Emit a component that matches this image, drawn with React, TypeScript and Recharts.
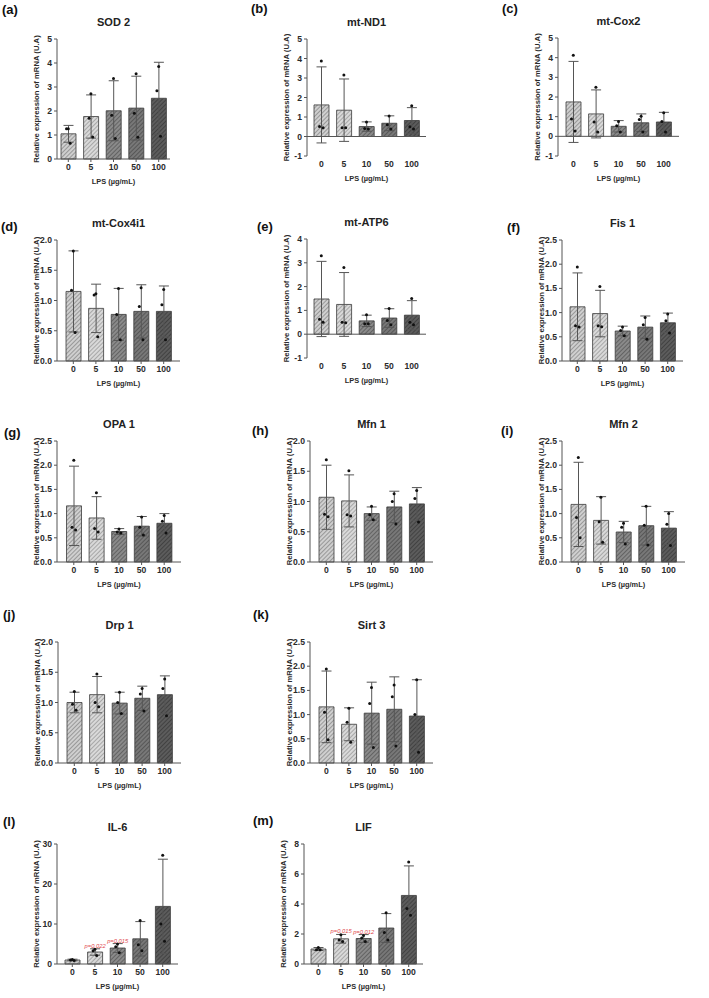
import React from 'react';
import {
  ComposedChart,
  Bar,
  Cell,
  ErrorBar,
  Line,
  XAxis,
  YAxis,
  ReferenceLine,
  LabelList,
} from 'recharts';

const FONT = '"Liberation Sans", Arial, sans-serif';
const TEXT = '#2b2b2b';

// LPS doses (µg/mL)
const doses = ['0', '5', '10', '50', '100'];

// y-axis ticks
const ticks0to5 = [0, 1, 2, 3, 4, 5];
const ticksM1to5 = [-1, 0, 1, 2, 3, 4, 5];
const ticksM1to4 = [-1, 0, 1, 2, 3, 4];
const ticks0to2 = [0, 0.5, 1, 1.5, 2];
const ticks0to25 = [0, 0.5, 1, 1.5, 2, 2.5];
const ticks0to30 = [0, 10, 20, 30];
const ticks0to8 = [0, 2, 4, 6, 8];

// mean, SD and the three replicates per dose
const sod2Mean = [1.05, 1.77, 2.01, 2.12, 2.53];
const sod2Sd = [0.35, 0.9, 1.25, 1.33, 1.5];
const sod2Pts = [[1.26, 1.26, 0.66], [2.72, 1.7, 0.92], [3.35, 1.82, 0.85], [3.55, 1.91, 0.91], [3.85, 2.84, 0.95]];

const nd1Mean = [1.62, 1.35, 0.51, 0.68, 0.82];
const nd1Sd = [1.95, 1.6, 0.24, 0.38, 0.66];
const nd1Pts = [[3.87, 0.51, 0.45], [3.16, 0.45, 0.45], [0.75, 0.41, 0.38], [1.05, 0.6, 0.38], [1.58, 0.5, 0.38]];

const cox2Mean = [1.75, 1.14, 0.51, 0.69, 0.73];
const cox2Sd = [2.06, 1.22, 0.29, 0.45, 0.49];
const cox2Pts = [[4.12, 0.88, 0.27], [2.49, 0.73, 0.22], [0.76, 0.54, 0.22], [1.02, 0.85, 0.22], [1.2, 0.75, 0.22]];

const cox4Mean = [1.15, 0.87, 0.77, 0.82, 0.82];
const cox4Sd = [0.67, 0.4, 0.43, 0.44, 0.42];
const cox4Pts = [[1.82, 1.17, 0.47], [1.11, 1.09, 0.4], [1.2, 0.77, 0.35], [1.21, 0.9, 0.35], [1.18, 0.93, 0.35]];

const atp6Mean = [1.48, 1.25, 0.56, 0.68, 0.8];
const atp6Sd = [1.58, 1.34, 0.24, 0.39, 0.61];
const atp6Pts = [[3.3, 0.63, 0.5], [2.8, 0.5, 0.48], [0.82, 0.44, 0.44], [1.08, 0.58, 0.4], [1.5, 0.5, 0.4]];

const fis1Mean = [1.12, 0.98, 0.62, 0.7, 0.79];
const fis1Sd = [0.7, 0.48, 0.1, 0.23, 0.2];
const fis1Pts = [[1.94, 0.73, 0.7], [1.54, 0.73, 0.71], [0.7, 0.63, 0.52], [0.9, 0.75, 0.45], [0.97, 0.83, 0.58]];

const opa1Mean = [1.16, 0.91, 0.63, 0.74, 0.8];
const opa1Sd = [0.82, 0.44, 0.06, 0.2, 0.2];
const opa1Pts = [[2.1, 0.72, 0.66], [1.43, 0.69, 0.62], [0.68, 0.62, 0.6], [0.93, 0.72, 0.56], [0.96, 0.84, 0.6]];

const mfn1Mean = [1.07, 1.01, 0.8, 0.91, 0.96];
const mfn1Sd = [0.53, 0.43, 0.11, 0.26, 0.27];
const mfn1Pts = [[1.69, 0.79, 0.75], [1.51, 0.78, 0.76], [0.92, 0.78, 0.7], [1.13, 1.0, 0.63], [1.18, 1.05, 0.66]];

const mfn2Mean = [1.19, 0.86, 0.62, 0.75, 0.7];
const mfn2Sd = [0.87, 0.49, 0.22, 0.4, 0.34];
const mfn2Pts = [[2.16, 0.92, 0.5], [1.34, 0.83, 0.41], [0.8, 0.72, 0.37], [1.15, 0.76, 0.35], [1.0, 0.78, 0.34]];

const drp1Mean = [1.0, 1.13, 0.99, 1.07, 1.13];
const drp1Sd = [0.17, 0.3, 0.18, 0.2, 0.31];
const drp1Pts = [[1.18, 0.97, 0.87], [1.47, 1.0, 0.93], [1.17, 1.0, 0.82], [1.23, 1.14, 0.86], [1.39, 1.23, 0.78]];

const sirt3Mean = [1.16, 0.8, 1.03, 1.11, 0.97];
const sirt3Sd = [0.74, 0.34, 0.64, 0.67, 0.75];
const sirt3Pts = [[1.94, 1.05, 0.48], [1.13, 0.84, 0.43], [1.56, 1.23, 0.32], [1.61, 1.37, 0.35], [1.72, 1.0, 0.22]];

const il6Mean = [1.0, 3.0, 4.0, 6.3, 14.4];
const il6Sd = [0.2, 0.8, 1.1, 4.3, 11.8];
const il6Pts = [[1.1, 1.0, 0.9], [3.7, 3.3, 2.1], [5.0, 4.3, 2.8], [10.9, 4.8, 3.3], [27.2, 10.0, 5.7]];
const il6P = [null, 'p=0.022', 'p=0.015', null, null];

const lifMean = [1.0, 1.68, 1.7, 2.4, 4.57];
const lifSd = [0.1, 0.29, 0.26, 0.96, 1.97];
const lifPts = [[1.1, 0.95, 0.95], [1.95, 1.6, 1.5], [1.9, 1.73, 1.5], [3.42, 2.1, 1.6], [6.8, 3.7, 3.25]];
const lifP = [null, 'p=0.015', 'p=0.012', null, null];

// hatched fills, light to dark with dose
const barShades = [
  { base: '#cfcfcf', line: '#7a7a7a' },
  { base: '#d9d9d9', line: '#8c8c8c' },
  { base: '#8a8a8a', line: '#4e4e4e' },
  { base: '#787878', line: '#444' },
  { base: '#5c5c5c', line: '#333' },
];

const jitter = [0, -1.8, 1.8];

type PanelProps = {
  id: string;
  letter: string;
  title: string;
  mean: number[];
  sd: number[];
  pts: number[][];
  ticks: number[];
  dec: number;
  pLabels?: (string | null)[];
  x: number; // page x of the y axis
  top: number; // page y of the highest tick
  bottom: number; // page y of the lowest tick
  pad: number;
  lx: number;
  ly: number;
};

const Y_W = 50;
const M_TOP = 10;
const X_H = 34;

function Panel(p: PanelProps) {
  const plotW = 113 + 2 * p.pad;
  const width = Y_W + plotW + 6;
  const height = M_TOP + (p.bottom - p.top) + X_H;
  const hasNeg = p.ticks[0] < 0;

  const data = doses.map((d, i) => ({
    dose: d,
    mean: p.mean[i],
    sd: p.sd[i],
    r0: p.pts[i][0],
    r1: p.pts[i][1],
    r2: p.pts[i][2],
    p: p.pLabels ? p.pLabels[i] : null,
  }));

  const dot = (k: number) => (props: any) => {
    const { cx, cy, index } = props;
    if (cx == null || cy == null) return <g key={`d${k}-${index}`} />;
    return <circle key={`d${k}-${index}`} cx={cx + jitter[k]} cy={cy} r={1.5} fill="#111" />;
  };

  // p-value sits just above the upper SD cap
  const pLabel = (props: any) => {
    const { x, y, width: w, height: h, value, index } = props;
    if (!value) return null;
    const perUnit = h / p.mean[index];
    const capY = y - p.sd[index] * perUnit;
    return (
      <text
        x={x + w / 2}
        y={capY - 1}
        textAnchor="middle"
        fontSize={5.8}
        fontStyle="italic"
        fontFamily={FONT}
        fill="#e0474c"
      >
        {value}
      </text>
    );
  };

  return (
    <>
      <div
        style={{
          position: 'absolute',
          left: p.lx,
          top: p.ly,
          transform: 'translateY(-50%)',
          fontFamily: FONT,
          fontWeight: 700,
          fontSize: 13,
          lineHeight: 1,
          color: '#111',
        }}
      >
        {p.letter}
      </div>
      <div
        style={{
          position: 'absolute',
          left: p.x,
          width: plotW,
          top: p.top - 17,
          transform: 'translateY(-50%)',
          textAlign: 'center',
          fontFamily: FONT,
          fontWeight: 700,
          fontSize: 11,
          lineHeight: 1,
          color: '#222',
        }}
      >
        {p.title}
      </div>
      <div style={{ position: 'absolute', left: p.x - Y_W, top: p.top - M_TOP }}>
        <ComposedChart
          width={width}
          height={height}
          data={data}
          margin={{ top: M_TOP, right: 6, bottom: 0, left: 0 }}
        >
          <defs>
            {barShades.map((s, i) => (
              <pattern
                key={i}
                id={`${p.id}-hatch-${i}`}
                width={3}
                height={3}
                patternUnits="userSpaceOnUse"
                patternTransform="rotate(45)"
              >
                <rect width={3} height={3} fill={s.base} />
                <line x1={0} y1={0} x2={0} y2={3} stroke={s.line} strokeWidth={1.3} />
              </pattern>
            ))}
          </defs>

          <XAxis
            dataKey="dose"
            height={X_H}
            padding={{ left: p.pad, right: p.pad }}
            axisLine={hasNeg ? false : { stroke: '#555', strokeWidth: 1 }}
            tickLine={hasNeg ? false : { stroke: '#555' }}
            tickSize={3}
            tickMargin={2}
            tick={{ fontSize: 8.6, fontWeight: 700, fill: TEXT, fontFamily: FONT }}
            label={{
              value: 'LPS (µg/mL)',
              position: 'insideBottom',
              offset: 9,
              style: { fontSize: 7.4, fontWeight: 700, fill: TEXT, fontFamily: FONT },
            }}
          />
          <YAxis
            width={Y_W}
            type="number"
            domain={[p.ticks[0], p.ticks[p.ticks.length - 1]]}
            ticks={p.ticks}
            interval={0}
            axisLine={{ stroke: '#555', strokeWidth: 1 }}
            tickLine={{ stroke: '#555' }}
            tickSize={3}
            tickMargin={2}
            tickFormatter={(v: number) => v.toFixed(p.dec)}
            tick={{ fontSize: 8.6, fontWeight: 700, fill: TEXT, fontFamily: FONT }}
            label={{
              value: 'Relative expression of mRNA (U.A)',
              angle: -90,
              position: 'insideLeft',
              offset: 29,
              style: {
                textAnchor: 'middle',
                fontSize: 7.7,
                fontWeight: 700,
                fill: TEXT,
                fontFamily: FONT,
              },
            }}
          />

          {hasNeg && <ReferenceLine y={0} stroke="#555" strokeWidth={1} />}

          <Bar
            dataKey="mean"
            barSize={15}
            stroke="#3a3a3a"
            strokeWidth={0.8}
            isAnimationActive={false}
          >
            {data.map((_, i) => (
              <Cell key={i} fill={`url(#${p.id}-hatch-${i})`} />
            ))}
            <ErrorBar dataKey="sd" width={5} stroke="#555" strokeWidth={1} direction="y" />
            {p.pLabels && <LabelList dataKey="p" content={pLabel} />}
          </Bar>

          {[0, 1, 2].map((k) => (
            <Line
              key={k}
              dataKey={`r${k}`}
              stroke="none"
              dot={dot(k)}
              activeDot={false}
              legendType="none"
              isAnimationActive={false}
            />
          ))}
        </ComposedChart>
      </div>
    </>
  );
}

const panels: PanelProps[] = [
  { id: 'a', letter: '(a)', title: 'SOD 2', mean: sod2Mean, sd: sod2Sd, pts: sod2Pts, ticks: ticks0to5, dec: 0, x: 57, top: 39, bottom: 159, pad: 0, lx: 2, ly: 9 },
  { id: 'b', letter: '(b)', title: 'mt-ND1', mean: nd1Mean, sd: nd1Sd, pts: nd1Pts, ticks: ticksM1to5, dec: 0, x: 307, top: 39, bottom: 156, pad: 3, lx: 251, ly: 8 },
  { id: 'c', letter: '(c)', title: 'mt-Cox2', mean: cox2Mean, sd: cox2Sd, pts: cox2Pts, ticks: ticksM1to5, dec: 0, x: 558, top: 38, bottom: 156, pad: 4, lx: 502, ly: 8 },
  { id: 'd', letter: '(d)', title: 'mt-Cox4i1', mean: cox4Mean, sd: cox4Sd, pts: cox4Pts, ticks: ticks0to2, dec: 1, x: 57, top: 240, bottom: 361, pad: 5, lx: 1, ly: 226 },
  { id: 'e', letter: '(e)', title: 'mt-ATP6', mean: atp6Mean, sd: atp6Sd, pts: atp6Pts, ticks: ticksM1to4, dec: 0, x: 307, top: 239, bottom: 358, pad: 3, lx: 257, ly: 226 },
  { id: 'f', letter: '(f)', title: 'Fis 1', mean: fis1Mean, sd: fis1Sd, pts: fis1Pts, ticks: ticks0to25, dec: 1, x: 562, top: 240, bottom: 361, pad: 4, lx: 507, ly: 227 },
  { id: 'g', letter: '(g)', title: 'OPA 1', mean: opa1Mean, sd: opa1Sd, pts: opa1Pts, ticks: ticks0to25, dec: 1, x: 57, top: 441, bottom: 562, pad: 5.5, lx: 4, ly: 432 },
  { id: 'h', letter: '(h)', title: 'Mfn 1', mean: mfn1Mean, sd: mfn1Sd, pts: mfn1Pts, ticks: ticks0to2, dec: 1, x: 310, top: 441, bottom: 562, pad: 5, lx: 252, ly: 430 },
  { id: 'i', letter: '(i)', title: 'Mfn 2', mean: mfn2Mean, sd: mfn2Sd, pts: mfn2Pts, ticks: ticks0to25, dec: 1, x: 562, top: 441, bottom: 562, pad: 5, lx: 501, ly: 430 },
  { id: 'j', letter: '(j)', title: 'Drp 1', mean: drp1Mean, sd: drp1Sd, pts: drp1Pts, ticks: ticks0to2, dec: 1, x: 58, top: 642, bottom: 763, pad: 5, lx: 3, ly: 614 },
  { id: 'k', letter: '(k)', title: 'Sirt 3', mean: sirt3Mean, sd: sirt3Sd, pts: sirt3Pts, ticks: ticks0to25, dec: 1, x: 310, top: 642, bottom: 763, pad: 5, lx: 253, ly: 614 },
  { id: 'l', letter: '(l)', title: 'IL-6', mean: il6Mean, sd: il6Sd, pts: il6Pts, ticks: ticks0to30, dec: 0, pLabels: il6P, x: 57, top: 844, bottom: 964, pad: 4, lx: 3, ly: 821 },
  { id: 'm', letter: '(m)', title: 'LIF', mean: lifMean, sd: lifSd, pts: lifPts, ticks: ticks0to8, dec: 0, pLabels: lifP, x: 304, top: 844, bottom: 964, pad: 3, lx: 253, ly: 820 },
];

export default function App() {
  return (
    <div
      style={{
        position: 'absolute',
        left: 0,
        top: 0,
        width: 709,
        height: 998,
        background: '#fff',
        overflow: 'hidden',
      }}
    >
      {panels.map((p) => (
        <Panel key={p.id} {...p} />
      ))}
    </div>
  );
}
